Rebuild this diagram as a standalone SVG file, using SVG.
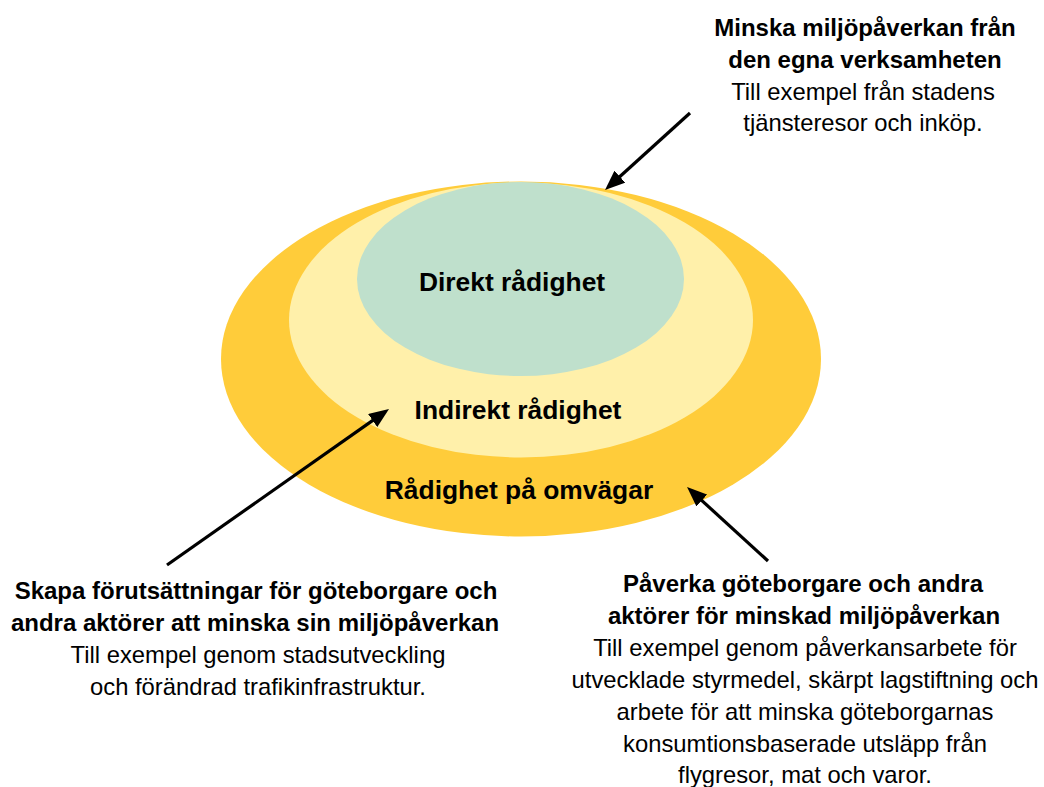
<svg xmlns="http://www.w3.org/2000/svg" width="1044" height="787" viewBox="0 0 1044 787">
<style>
text{font-family:"Liberation Sans",Arial,sans-serif;fill:#000;text-anchor:middle}
.lbl{font-size:26.4px;font-weight:bold}
.h{font-size:24px;font-weight:bold}
.t{font-size:23.8px}
.arr{stroke:#000;stroke-width:3.2;fill:none}
</style>
<defs>
<marker id="ah" markerUnits="userSpaceOnUse" viewBox="0 0 20 16" markerWidth="20" markerHeight="16" refX="8" refY="8" orient="auto">
<path d="M0,0 L20,8 L0,16 z" fill="#000"/>
</marker>
</defs>
<rect width="1044" height="787" fill="#fff"/>
<g id="outer">
<ellipse cx="521" cy="359" rx="300" ry="177.5" fill="#FFCC3A"/>
<text class="lbl" x="519" y="499">Rådighet på omvägar</text>
</g>
<g id="middle">
<ellipse cx="521" cy="320" rx="232" ry="137.5" fill="#FFF0AA"/>
<text class="lbl" x="518" y="419">Indirekt rådighet</text>
</g>
<g id="inner">
<ellipse cx="520.5" cy="279" rx="163.5" ry="97" fill="#BFE0CC"/>
<text class="lbl" x="512" y="291">Direkt rådighet</text>
</g>
<g id="note-top">
<text class="h" x="865" y="36">Minska miljöpåverkan från</text>
<text class="h" x="865" y="68">den egna verksamheten</text>
<text class="t" x="863" y="100">Till exempel från stadens</text>
<text class="t" x="863" y="131">tjänsteresor och inköp.</text>
</g>
<g id="note-left">
<text class="h" x="256" y="599">Skapa förutsättningar för göteborgare och</text>
<text class="h" x="255" y="631">andra aktörer att minska sin miljöpåverkan</text>
<text class="t" x="258" y="663">Till exempel genom stadsutveckling</text>
<text class="t" x="258" y="695">och förändrad trafikinfrastruktur.</text>
</g>
<g id="note-right">
<text class="h" x="803" y="592">Påverka göteborgare och andra</text>
<text class="h" x="804" y="624">aktörer för minskad miljöpåverkan</text>
<text class="t" x="805" y="656">Till exempel genom påverkansarbete för</text>
<text class="t" x="805" y="688">utvecklade styrmedel, skärpt lagstiftning och</text>
<text class="t" x="805" y="720">arbete för att minska göteborgarnas</text>
<text class="t" x="805" y="752">konsumtionsbaserade utsläpp från</text>
<text class="t" x="805" y="783">flygresor, mat och varor.</text>
</g>
<g id="connectors">
<line class="arr" x1="690" y1="113" x2="613.9" y2="182" marker-end="url(#ah)"/>
<line class="arr" x1="167" y1="565" x2="379.2" y2="415.9" marker-end="url(#ah)"/>
<line class="arr" x1="768" y1="561" x2="695.9" y2="495.1" marker-end="url(#ah)"/>
</g>
</svg>
